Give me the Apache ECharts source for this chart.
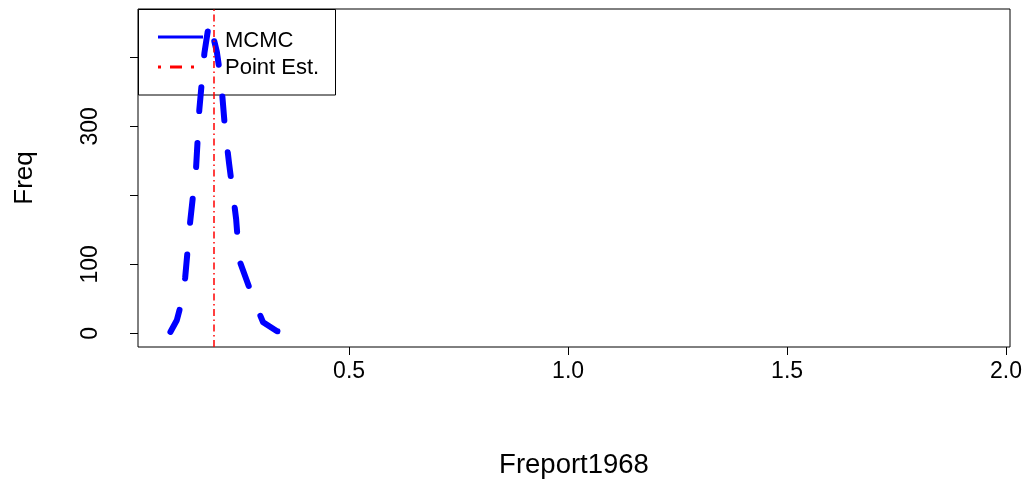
<!DOCTYPE html>
<html><head><meta charset="utf-8">
<script src="https://cdn.jsdelivr.net/npm/echarts@6/dist/echarts.min.js"></script>
<style>html,body{margin:0;padding:0;background:#fff}#c{width:1029px;height:485px}</style>
</head><body><div id="c"></div>
<script>
// Data
const xValues = [0.092, 0.1066, 0.1157, 0.1256, 0.137, 0.1507, 0.158, 0.1696, 0.181, 0.198, 0.2078, 0.2169, 0.226, 0.2345, 0.242, 0.2473, 0.2511, 0.2838, 0.3037, 0.3356, 0.3493];
const freqValues = [2, 19, 41, 80, 161, 241, 324, 406, 453, 408, 365, 295, 246, 204, 166, 123, 103, 46, 16, 3, 2];
const pointEstimate = 0.19;
const xTicks = [0.5, 1.0, 1.5, 2.0];
const yTicks = [0, 100, 200, 300, 400];
const yTickLabels = [0, 100, 300];
const legendNames = ['MCMC', 'Point Est.'];
const xTitle = 'Freport1968';
const yTitle = 'Freq';

const FONT = '"Liberation Sans", Arial, Helvetica, sans-serif';
const chart = echarts.init(document.getElementById('c'), null, {renderer: 'canvas'});
const seriesData = xValues.map((x, i) => [x, freqValues[i]]);

chart.setOption({
  animation: false,
  backgroundColor: '#ffffff',
  grid: {left: 138, top: 9, right: 19, bottom: 138, show: true, borderColor: '#000', borderWidth: 1, containLabel: false},
  xAxis: {
    type: 'value', min: 0.018, max: 2.009,
    axisLine: {show: false, onZero: false},
    splitLine: {show: false},
    axisTick: {show: true, length: 8, inside: false, customValues: xTicks, lineStyle: {color: '#000', width: 1}},
    axisLabel: {show: true, customValues: xTicks, formatter: v => v.toFixed(1), color: '#000', fontFamily: FONT, fontSize: 23, margin: 13},
    name: xTitle, nameLocation: 'middle', nameGap: 104,
    nameTextStyle: {color: '#000', fontFamily: FONT, fontSize: 27.5}
  },
  yAxis: {
    type: 'value', min: -19.8, max: 470,
    axisLine: {show: false, onZero: false},
    splitLine: {show: false},
    axisTick: {show: true, length: 8, inside: false, customValues: yTicks, lineStyle: {color: '#000', width: 1}},
    axisLabel: {show: true, customValues: yTickLabels, rotate: 90, color: '#000', fontFamily: FONT, fontSize: 23, margin: 36},
    name: yTitle, nameLocation: 'middle', nameRotate: 90, nameGap: 100,
    nameTextStyle: {color: '#000', fontFamily: FONT, fontSize: 26}
  },
  series: [{
    name: legendNames[0], type: 'line', data: seriesData, showSymbol: false, smooth: false,
    lineStyle: {color: '#0000ff', width: 6, type: [24, 32], cap: 'round', join: 'round'},
    z: 3,
    markLine: {
      silent: true, symbol: ['none', 'none'], label: {show: false},
      lineStyle: {color: '#ff0000', width: 1.5, type: [7, 3.5, 1.5, 3.5]},
      data: [{xAxis: pointEstimate}]
    }
  }],
  graphic: [
    {type: 'rect', z: 1, shape: {x: 138.5, y: 9.5, width: 197, height: 85.5}, style: {fill: 'none', stroke: '#000', lineWidth: 1}},
    {type: 'line', z: 1, shape: {x1: 158, y1: 37, x2: 203, y2: 37}, style: {stroke: '#0000ff', lineWidth: 3}},
    {type: 'line', z: 1, shape: {x1: 158, y1: 67, x2: 203, y2: 67}, style: {stroke: '#ff0000', lineWidth: 3, lineDash: [3, 9, 12, 9]}},
    {type: 'text', z: 1, style: {x: 225, y: 41, text: legendNames[0], fill: '#000', font: '22px ' + FONT, textVerticalAlign: 'middle', verticalAlign: 'middle'}},
    {type: 'text', z: 1, style: {x: 225, y: 68, text: legendNames[1], fill: '#000', font: '22px ' + FONT, textVerticalAlign: 'middle', verticalAlign: 'middle'}}
  ]
});
</script></body></html>
